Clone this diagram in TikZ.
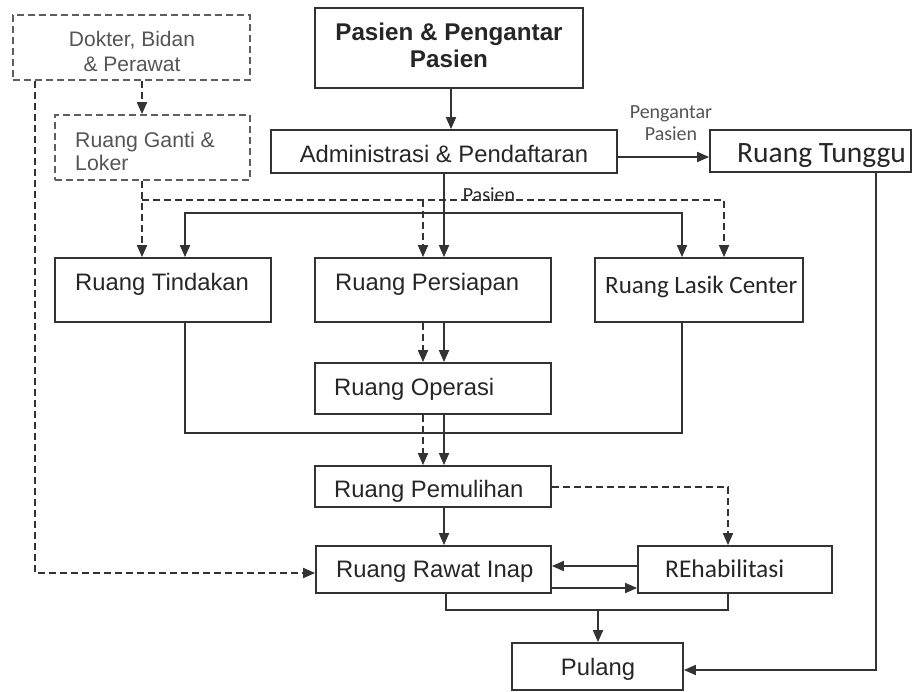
\documentclass[tikz,border=0pt]{standalone}
\usepackage{fontspec}
\setmainfont{Liberation Sans}
\newfontfamily\calfont{Carlito}
\usetikzlibrary{arrows.meta}
\definecolor{lc}{HTML}{333333}
\definecolor{dc}{HTML}{5E5E5E}
\definecolor{tc}{HTML}{262626}
\definecolor{gc}{HTML}{555555}
\begin{document}
\begin{tikzpicture}[x=1pt,y=-1pt,
  box/.style={draw=lc, line width=1.8pt, inner sep=0pt},
  dbox/.style={draw=dc, line width=1.8pt, inner sep=0pt, dash pattern=on 7pt off 4pt},
  ln/.style={draw=lc, line width=1.8pt},
  dln/.style={ln, dash pattern=on 7pt off 4pt},
  arr/.style={ln, -{Triangle[length=12pt,width=10pt]}},
  darr/.style={arr, dash pattern=on 7pt off 4pt},
  txt/.style={inner sep=0pt, anchor=base west, text=tc, font=\fontsize{23.8}{28}\selectfont},
  ctxt/.style={txt, anchor=base},
  cal/.style={inner sep=0pt, anchor=base west, text=tc, font=\calfont\fontsize{25}{28}\selectfont},
  gtxt/.style={inner sep=0pt, anchor=base west, text=gc, font=\fontsize{21}{24}\selectfont}
]
\useasboundingbox (0,0) rectangle (913,691);
% boxes
\node[dbox, minimum width=237pt, minimum height=65pt] (dok) at (131.5,47.5) {};
\node[box, minimum width=268pt, minimum height=80pt] (pas) at (449,48) {};
\node[box, minimum width=346pt, minimum height=43pt] (adm) at (444,151.5) {};
\node[box, minimum width=201pt, minimum height=42pt] (tun) at (810.5,151) {};
\node[dbox, minimum width=195pt, minimum height=65pt] (gan) at (152.5,147.5) {};
\node[box, minimum width=216pt, minimum height=64pt] (tin) at (163,290) {};
\node[box, minimum width=236pt, minimum height=64pt] (per) at (433,290) {};
\node[box, minimum width=208pt, minimum height=64pt] (las) at (699,290) {};
\node[box, minimum width=236pt, minimum height=51pt] (ope) at (433,388.5) {};
\node[box, minimum width=236pt, minimum height=41pt] (pem) at (433,486.5) {};
\node[box, minimum width=235pt, minimum height=47pt] (raw) at (433.5,569.5) {};
\node[box, minimum width=194pt, minimum height=47pt] (reh) at (735,569.5) {};
\node[box, minimum width=171pt, minimum height=47pt] (pul) at (597.5,666.5) {};
% texts
\node[gtxt, anchor=base] (t1) at (132,46) {Dokter, Bidan};
\node[gtxt, anchor=base] (t2) at (132,71) {\& Perawat};
\node[gtxt, anchor=base west, font=\fontsize{21.3}{24}\selectfont] (t3) at (75,147) {Ruang Ganti \&};
\node[gtxt, anchor=base west, font=\fontsize{21.3}{24}\selectfont] (t4) at (75,170) {Loker};
\node[ctxt, font=\bfseries\fontsize{24.2}{28}\selectfont] (t5) at (449,40) {Pasien \& Pengantar};
\node[ctxt, font=\bfseries\fontsize{24.2}{28}\selectfont] (t6) at (449,67) {Pasien};
\node[ctxt] (t7) at (444,162) {Administrasi \& Pendaftaran};
\node[cal, font=\calfont\fontsize{29.5}{32}\selectfont] (t8) at (737,162) {Ruang Tunggu};
\node[txt] (t9) at (75,290) {Ruang Tindakan};
\node[txt] (t10) at (335,290) {Ruang Persiapan};
\node[cal] (t11) at (605,293) {Ruang Lasik Center};
\node[txt] (t12) at (334,395) {Ruang Operasi};
\node[txt] (t13) at (334,497) {Ruang Pemulihan};
\node[txt] (t14) at (336,577) {Ruang Rawat Inap};
\node[cal, font=\calfont\fontsize{25.5}{28}\selectfont] (t15) at (665,577) {REhabilitasi};
\node[ctxt] (t16) at (598,675) {Pulang};
\node[cal, anchor=base, text=gc, font=\calfont\fontsize{20}{24}\selectfont] (t17) at (671,118) {Pengantar};
\node[cal, anchor=base, text=gc, font=\calfont\fontsize{20}{24}\selectfont] (t18) at (671,140) {Pasien};
\node[cal, anchor=base, font=\calfont\fontsize{20}{24}\selectfont] (t19) at (489,201) {Pasien};
% connectors
\draw[arr] (451,0 |- pas.south) -- (451,0 |- adm.north);
\draw[arr] (adm.east |- 0,157) -- (tun.west |- 0,157);
\draw[darr] (142,0 |- dok.south) -- (142,0 |- gan.north);
\draw[darr] (35,0 |- dok.south) |- (raw.west |- 0,573);
% dashed distribution
\draw[darr] (142,0 |- gan.south) -- (142,0 |- tin.north);
\draw[darr] (142,200) -| (724,0 |- las.north);
\draw[darr] (423,200) -- (423,0 |- per.north);
% solid distribution
\draw[arr] (adm.south) -- (444,0 |- per.north);
\draw[arr] (444,213) -| (185,0 |- tin.north);
\draw[arr] (444,213) -| (682,0 |- las.north);
% to operasi
\draw[darr] (423,0 |- per.south) -- (423,0 |- ope.north);
\draw[arr] (444,0 |- per.south) -- (444,0 |- ope.north);
% tindakan / lasik collector
\draw[ln] (185,0 |- tin.south) |- (682,433) -- (682,0 |- las.south);
% to pemulihan
\draw[darr] (423,0 |- ope.south) -- (423,0 |- pem.north);
\draw[arr] (444,0 |- ope.south) -- (444,0 |- pem.north);
% pemulihan onwards
\draw[darr] (pem.east |- 0,487) -| (728,0 |- reh.north);
\draw[arr] (444,0 |- pem.south) -- (444,0 |- raw.north);
\draw[arr] (reh.west |- 0,566) -- (raw.east |- 0,566);
\draw[arr] (raw.east |- 0,588) -- (reh.west |- 0,588);
\draw[ln] (446,0 |- raw.south) |- (728,610) -- (728,0 |- reh.south);
\draw[arr] (598,610) -- (598,0 |- pul.north);
\draw[arr] (876,0 |- tun.south) |- (pul.east |- 0,670);
\end{tikzpicture}
\end{document}
